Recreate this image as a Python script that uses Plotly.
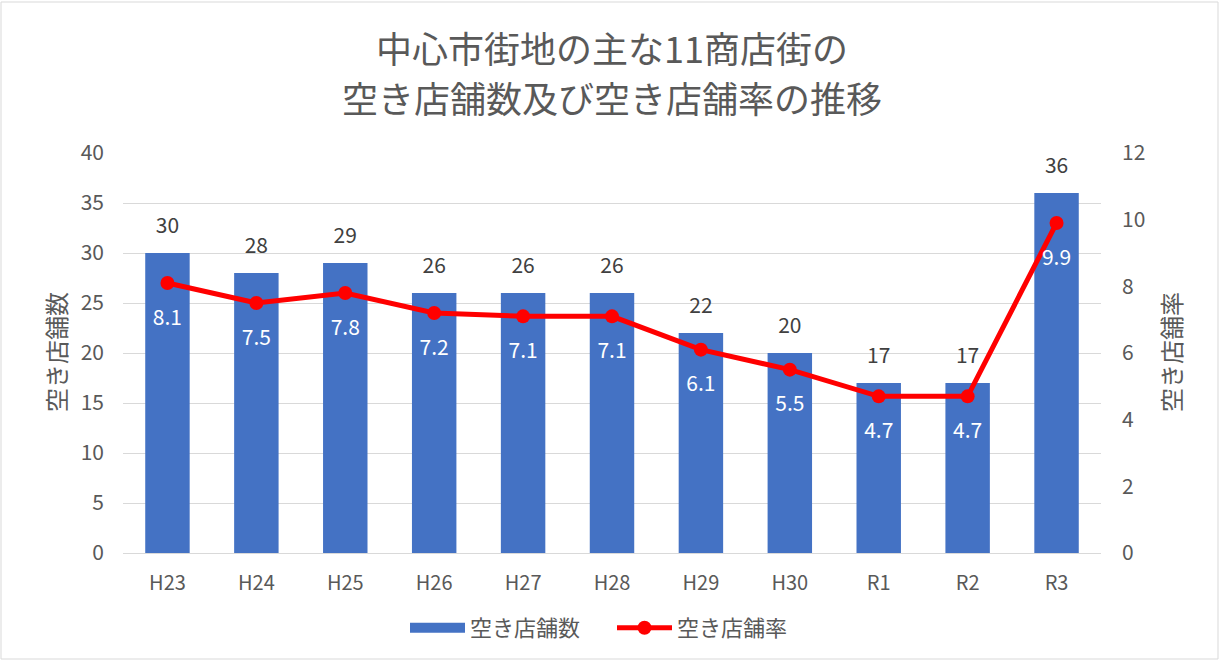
import plotly.graph_objects as go

years = ['H23', 'H24', 'H25', 'H26', 'H27', 'H28', 'H29', 'H30', 'R1', 'R2', 'R3']
vacant_count = [30, 28, 29, 26, 26, 26, 22, 20, 17, 17, 36]
vacant_rate = [8.1, 7.5, 7.8, 7.2, 7.1, 7.1, 6.1, 5.5, 4.7, 4.7, 9.9]

FONT = 'Noto Sans CJK JP'
GRAY = '#595959'
BLUE = '#4472C4'
RED = '#FF0000'

# plot area in pixels: x 123..1101, y 153..553
PW, PH = 978, 400


def px_x(px):
    return (px - 123) / PW


def px_y(py):
    return (553 - py) / PH


fig = go.Figure()

fig.add_trace(
    go.Bar(
        x=years,
        y=vacant_count,
        name='空き店舗数',
        marker=dict(color=BLUE, line=dict(width=0)),
        showlegend=False
    )
)

# bar value labels (invisible markers push the text away from the bar top)
fig.add_trace(
    go.Scatter(
        x=years,
        y=vacant_count,
        mode='markers+text',
        marker=dict(size=22, opacity=0),
        text=vacant_count,
        textposition='top center',
        textfont=dict(color='#404040', size=21, family=FONT),
        showlegend=False,
        hoverinfo='skip',
        cliponaxis=False
    )
)

fig.add_trace(
    go.Scatter(
        x=years,
        y=vacant_rate,
        name='空き店舗率',
        yaxis='y2',
        mode='lines+markers',
        line=dict(color=RED, width=5),
        marker=dict(color=RED, size=14),
        showlegend=False
    )
)

# rate labels below the markers
fig.add_trace(
    go.Scatter(
        x=years,
        y=vacant_rate,
        yaxis='y2',
        mode='markers+text',
        marker=dict(size=40, opacity=0),
        text=[f'{v:.1f}' for v in vacant_rate],
        textposition='bottom center',
        textfont=dict(color='white', size=21, family=FONT),
        showlegend=False,
        hoverinfo='skip'
    )
)

# legend entries
fig.add_trace(go.Scatter(x=[None], y=[None], mode='lines', name='空き店舗数',
                         line=dict(color=BLUE, width=10)))
fig.add_trace(go.Scatter(x=[None], y=[None], mode='lines+markers', name='空き店舗率',
                         line=dict(color=RED, width=5), marker=dict(color=RED, size=14)))

fig.update_layout(
    width=1220,
    height=661,
    margin=dict(l=123, r=119, t=153, b=108),
    paper_bgcolor='white',
    plot_bgcolor='white',
    font=dict(family=FONT, color=GRAY),
    bargap=0.5,
    xaxis=dict(
        range=[-0.5, len(years) - 0.5],
        tickfont=dict(size=20, color=GRAY),
        showline=True,
        linecolor='#D9D9D9',
        linewidth=1,
        ticks='',
        ticklabelstandoff=12,
        automargin=False
    ),
    yaxis=dict(
        range=[0, 40],
        dtick=5,
        tickfont=dict(size=21, color=GRAY),
        gridcolor='#D9D9D9',
        gridwidth=1,
        zeroline=False,
        ticklabelstandoff=18,
        automargin=False
    ),
    yaxis2=dict(
        range=[0, 12],
        dtick=2,
        overlaying='y',
        side='right',
        showgrid=False,
        zeroline=False,
        tickfont=dict(size=21, color=GRAY),
        ticklabelstandoff=20,
        automargin=False
    ),
    legend=dict(
        orientation='h',
        x=0.5,
        xanchor='center',
        y=px_y(628),
        yanchor='middle',
        font=dict(size=22, color=GRAY),
        traceorder='normal',
        itemwidth=55,
        entrywidth=137,
        entrywidthmode='pixels'
    ),
    annotations=[
        dict(text='中心市街地の主な11商店街の', x=0.5, y=px_y(47), xref='paper', yref='paper',
             showarrow=False, font=dict(size=36, color=GRAY), xanchor='center', yanchor='middle'),
        dict(text='空き店舗数及び空き店舗率の推移', x=0.5, y=px_y(97), xref='paper', yref='paper',
             showarrow=False, font=dict(size=36, color=GRAY), xanchor='center', yanchor='middle'),
        dict(text='空き店舗数', x=px_x(55), y=px_y(352), xref='paper', yref='paper',
             showarrow=False, textangle=-90, font=dict(size=24, color=GRAY),
             xanchor='center', yanchor='middle'),
        dict(text='空き店舗率', x=px_x(1170), y=px_y(352), xref='paper', yref='paper',
             showarrow=False, textangle=-90, font=dict(size=24, color=GRAY),
             xanchor='center', yanchor='middle'),
    ],
    shapes=[
        dict(
            type='rect',
            xref='paper',
            yref='paper',
            x0=px_x(1),
            x1=px_x(1218),
            y0=px_y(659),
            y1=px_y(2),
            line=dict(color='#D9D9D9', width=1),
            layer='below'
        )
    ]
)

fig.write_html(
    "out.html",
    config={'displayModeBar': False},
    post_script="document.body.style.margin='0';"
)
